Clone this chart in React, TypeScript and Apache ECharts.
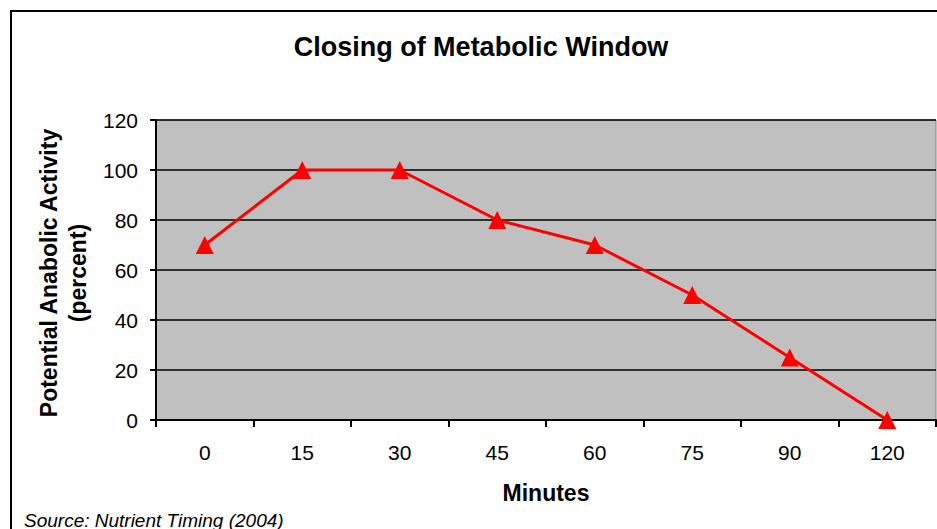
import React, { useEffect, useRef } from "react";
import * as echarts from "echarts";

const categories = ["0", "15", "30", "45", "60", "75", "90", "120"];
const activity = [70, 100, 100, 80, 70, 50, 25, 0];
const yTicks = { min: 0, max: 120, interval: 20 };

const FONT = "'Liberation Sans', Arial, Helvetica, sans-serif";

export default function App() {
  const ref = useRef<HTMLDivElement>(null);
  useEffect(() => {
    if (!ref.current) return;
    const chart = echarts.init(ref.current, null, { renderer: "svg" });
    chart.setOption({
      animation: false,
      backgroundColor: "#ffffff",
      textStyle: { fontFamily: FONT },
      grid: {
        left: 156,
        top: 120,
        right: 1,
        bottom: 109,
        show: true,
        backgroundColor: "#C0C0C0",
        borderColor: "#808080",
        borderWidth: 1,
      },
      xAxis: {
        type: "category",
        data: categories,
        boundaryGap: true,
        name: "Minutes",
        nameLocation: "middle",
        nameGap: 61,
        nameTextStyle: { fontFamily: FONT, fontSize: 23, fontWeight: "bold", color: "#000" },
        axisLine: { lineStyle: { color: "#000", width: 2 } },
        axisTick: { show: true, length: 7, inside: false, lineStyle: { color: "#000", width: 2 } },
        axisLabel: { margin: 22, fontFamily: FONT, fontSize: 21, color: "#000" },
        splitLine: { show: false },
      },
      yAxis: {
        type: "value",
        min: yTicks.min,
        max: yTicks.max,
        interval: yTicks.interval,
        axisLine: { show: true, lineStyle: { color: "#000", width: 2 } },
        axisTick: { show: true, length: 6, lineStyle: { color: "#000", width: 2 } },
        axisLabel: { margin: 18, fontFamily: FONT, fontSize: 21, color: "#000" },
        splitLine: { show: true, lineStyle: { color: "#000", width: 1.5 } },
      },
      graphic: [
        {
          type: "rect",
          shape: { x: 11, y: 11, width: 1000, height: 600 },
          style: { fill: "none", stroke: "#000", lineWidth: 2 },
          z: 100,
        },
        {
          type: "text",
          x: 481,
          y: 47,
          style: {
            text: "Closing of Metabolic Window",
            fontFamily: FONT,
            fontSize: 27,
            fontWeight: "bold",
            fill: "#000",
            textAlign: "center",
            textVerticalAlign: "middle",
          },
        },
        {
          type: "text",
          x: 49,
          y: 273,
          rotation: Math.PI / 2,
          style: {
            text: "Potential Anabolic Activity",
            fontFamily: FONT,
            fontSize: 23,
            fontWeight: "bold",
            fill: "#000",
            textAlign: "center",
            textVerticalAlign: "middle",
          },
        },
        {
          type: "text",
          x: 78,
          y: 273,
          rotation: Math.PI / 2,
          style: {
            text: "(percent)",
            fontFamily: FONT,
            fontSize: 23,
            fontWeight: "bold",
            fill: "#000",
            textAlign: "center",
            textVerticalAlign: "middle",
          },
        },
        {
          type: "text",
          x: 24,
          y: 520,
          style: {
            text: "Source: Nutrient Timing (2004)",
            fontFamily: FONT,
            fontSize: 19,
            fontStyle: "italic",
            fill: "#000",
            textAlign: "left",
            textVerticalAlign: "middle",
          },
        },
      ],
      series: [
        {
          type: "line",
          data: activity,
          clip: false,
          symbol: "triangle",
          symbolSize: 18,
          lineStyle: { color: "#FF0000", width: 3 },
          itemStyle: { color: "#FF0000" },
          z: 10,
        },
      ],
    });
    return () => chart.dispose();
  }, []);
  return (
    <div
      ref={ref}
      style={{ position: "fixed", left: 0, top: 0, width: 937, height: 529 }}
    />
  );
}
